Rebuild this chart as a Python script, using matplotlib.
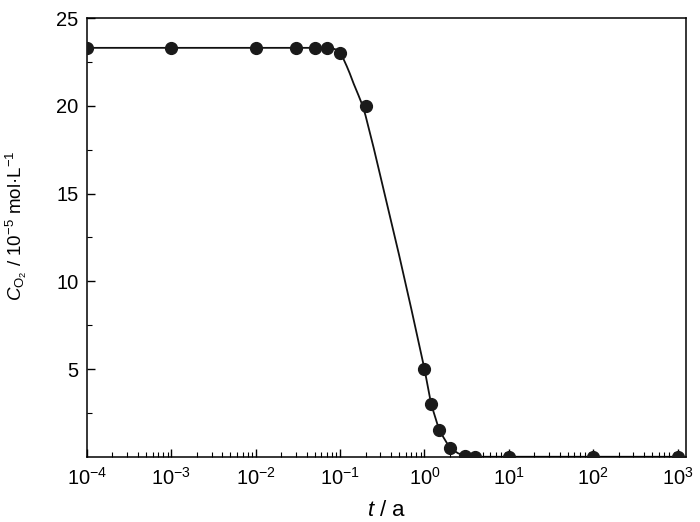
import math
import matplotlib.pyplot as plt
from matplotlib.ticker import FixedLocator, LogLocator, FuncFormatter, NullFormatter

plt.rcParams['font.family'] = ['Liberation Sans', 'DejaVu Sans']
plt.rcParams['mathtext.fontset'] = 'custom'
plt.rcParams['mathtext.rm'] = 'Liberation Sans'
plt.rcParams['mathtext.it'] = 'Liberation Sans:italic'
plt.rcParams['mathtext.default'] = 'regular'

# measured points
t_data = [1e-4, 1e-3, 1e-2, 0.03, 0.05, 0.07, 0.1, 0.2, 1.0, 1.2, 1.5, 2.0, 3.0, 4.0, 10, 100, 1000]
c_data = [23.3, 23.3, 23.3, 23.3, 23.3, 23.3, 23.0, 20.0, 5.0, 3.0, 1.5, 0.5, 0.05, 0.0, 0.0, 0.0, 0.0]

# fitted curve
t_curve = [1e-4, 0.07, 0.08, 0.09, 0.1, 0.11, 0.12, 0.13, 0.145, 0.165, 0.185, 0.2, 0.25, 0.3,
           0.5, 0.7, 1.0, 1.2, 1.5, 2.0, 2.5, 3.0, 4.0, 10, 1000]
c_curve = [23.3, 23.3, 23.28, 23.2, 23.0, 22.65, 22.25, 21.85, 21.25, 20.6, 20.0, 19.45, 17.6, 16.0,
           11.5, 8.4, 5.0, 3.0, 1.5, 0.5, 0.2, 0.05, 0.0, 0.0, 0.0]

fig = plt.figure(figsize=(7, 5.22), dpi=100)
ax = fig.add_axes([0.1243, 0.125, 0.8557, 0.8405])

ax.plot(t_curve, c_curve, color='#111111', lw=1.3, zorder=2)
ax.plot(t_data, c_data, 'o', color='#1a1a1a', ms=8.5, zorder=3)

ax.set_xscale('log')
ax.set_xlim(1e-4, 10 ** 3.1)
ax.set_ylim(0, 25)

ax.xaxis.set_major_locator(FixedLocator([1e-4, 1e-3, 1e-2, 1e-1, 1, 10, 100, 1000]))
ax.xaxis.set_minor_locator(LogLocator(base=10, subs=range(2, 10), numticks=20))
ax.xaxis.set_minor_formatter(NullFormatter())
ax.xaxis.set_major_formatter(FuncFormatter(lambda v, p: r'$10^{%d}$' % round(math.log10(v))))

ax.yaxis.set_major_locator(FixedLocator([5, 10, 15, 20, 25]))
ax.yaxis.set_minor_locator(FixedLocator([2.5, 7.5, 12.5, 17.5, 22.5]))

ax.tick_params(which='major', direction='in', length=6, width=1, labelsize=14.5)
ax.tick_params(axis='x', which='major', pad=7)
ax.tick_params(axis='y', which='major', pad=6)
ax.tick_params(which='minor', direction='in', length=3.5, width=0.8)
for s in ax.spines.values():
    s.set_linewidth(1.1)

ax.set_xlabel(r'$\mathit{t}$ / a', fontsize=16)
ax.set_ylabel(r'$\mathit{C}_{\mathrm{O_2}}$ / 10$^{-5}$ mol·L$^{-1}$', fontsize=13.5)
ax.xaxis.set_label_coords(0.5, -0.098)
ax.yaxis.set_label_coords(-0.097, 0.526)

fig.savefig('out.png', dpi=100)
